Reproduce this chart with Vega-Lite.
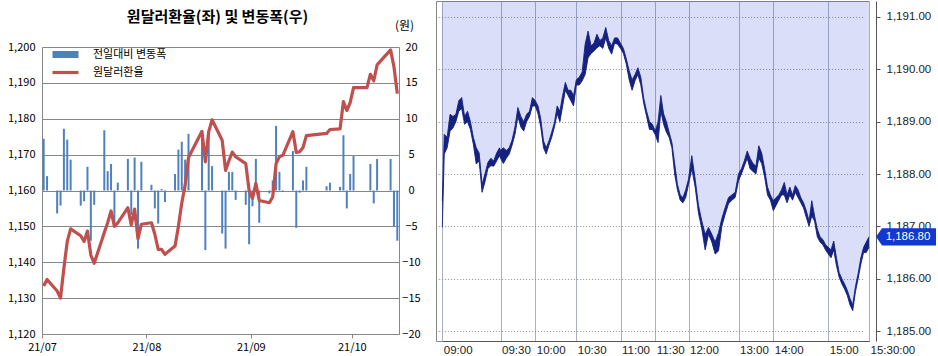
{
  "$schema": "https://vega.github.io/schema/vega-lite/v6.json",
  "padding": {"left": 7, "top": 0, "right": 0, "bottom": 0},
  "spacing": 14,
  "config": {
    "view": {"stroke": "#888888"},
    "font": "Noto Sans CJK KR",
    "axis": {"labelFont": "Noto Sans CJK KR", "titleFont": "Noto Sans CJK KR", "labelColor": "#000000"}
  },
  "resolve": {"scale": {"color": "independent"}, "legend": {"color": "independent"}},
  "hconcat": [
    {
      "width": 357,
      "height": 333,
      "view": {"stroke": null},
      "title": {"text": "원달러환율(좌) 및 변동폭(우)", "fontSize": 15, "fontWeight": "bold", "font": "Noto Sans CJK KR", "color": "#000000", "anchor": "middle", "baseline": "alphabetic", "offset": -36, "dx": -3},
      "data": {"values": [
        {"date": "2021-07-01", "rate": 1133.4, "chg": 7.2},
        {"date": "2021-07-02", "rate": 1135.2, "chg": 2.0},
        {"date": "2021-07-05", "rate": 1132.0, "chg": -3.2},
        {"date": "2021-07-06", "rate": 1130.0, "chg": -2.1},
        {"date": "2021-07-07", "rate": 1138.4, "chg": 8.6},
        {"date": "2021-07-08", "rate": 1145.8, "chg": 7.1},
        {"date": "2021-07-09", "rate": 1149.3, "chg": 4.3},
        {"date": "2021-07-12", "rate": 1147.4, "chg": -2.1},
        {"date": "2021-07-13", "rate": 1145.8, "chg": -1.5},
        {"date": "2021-07-14", "rate": 1148.7, "chg": 3.3},
        {"date": "2021-07-15", "rate": 1142.0, "chg": -7.0},
        {"date": "2021-07-16", "rate": 1139.7, "chg": -2.0},
        {"date": "2021-07-19", "rate": 1148.3, "chg": 8.4},
        {"date": "2021-07-20", "rate": 1151.0, "chg": 2.7},
        {"date": "2021-07-21", "rate": 1154.3, "chg": 3.7},
        {"date": "2021-07-22", "rate": 1150.0, "chg": -5.0},
        {"date": "2021-07-23", "rate": 1151.0, "chg": 1.1},
        {"date": "2021-07-26", "rate": 1155.2, "chg": 4.4},
        {"date": "2021-07-27", "rate": 1150.4, "chg": -3.4},
        {"date": "2021-07-28", "rate": 1154.8, "chg": 4.6},
        {"date": "2021-07-29", "rate": 1146.5, "chg": -8.1},
        {"date": "2021-07-30", "rate": 1150.6, "chg": 4.0},
        {"date": "2021-08-02", "rate": 1151.0, "chg": 0.8},
        {"date": "2021-08-03", "rate": 1147.8, "chg": -2.5},
        {"date": "2021-08-04", "rate": 1143.6, "chg": -4.6},
        {"date": "2021-08-05", "rate": 1143.6, "chg": 0.2},
        {"date": "2021-08-06", "rate": 1142.2, "chg": -1.6},
        {"date": "2021-08-09", "rate": 1144.5, "chg": 2.3},
        {"date": "2021-08-10", "rate": 1150.0, "chg": 5.7},
        {"date": "2021-08-11", "rate": 1156.5, "chg": 6.8},
        {"date": "2021-08-12", "rate": 1161.5, "chg": 4.3},
        {"date": "2021-08-13", "rate": 1169.2, "chg": 7.9},
        {"date": "2021-08-17", "rate": 1176.5, "chg": 7.6},
        {"date": "2021-08-18", "rate": 1168.0, "chg": -8.3},
        {"date": "2021-08-19", "rate": 1176.4, "chg": 8.3},
        {"date": "2021-08-20", "rate": 1179.7, "chg": 3.4},
        {"date": "2021-08-23", "rate": 1174.0, "chg": -6.0},
        {"date": "2021-08-24", "rate": 1165.6, "chg": -8.1},
        {"date": "2021-08-25", "rate": 1168.3, "chg": 2.6},
        {"date": "2021-08-26", "rate": 1170.7, "chg": 2.6},
        {"date": "2021-08-27", "rate": 1169.4, "chg": -1.3},
        {"date": "2021-08-30", "rate": 1167.5, "chg": -2.0},
        {"date": "2021-08-31", "rate": 1160.0, "chg": -7.5},
        {"date": "2021-09-01", "rate": 1157.8, "chg": -2.2},
        {"date": "2021-09-02", "rate": 1162.0, "chg": 4.4},
        {"date": "2021-09-03", "rate": 1157.2, "chg": -4.5},
        {"date": "2021-09-06", "rate": 1156.6, "chg": -0.4},
        {"date": "2021-09-07", "rate": 1158.2, "chg": 1.4},
        {"date": "2021-09-08", "rate": 1167.5, "chg": 9.0},
        {"date": "2021-09-09", "rate": 1169.4, "chg": 2.6},
        {"date": "2021-09-10", "rate": 1169.8, "chg": -0.2},
        {"date": "2021-09-13", "rate": 1176.4, "chg": 5.5},
        {"date": "2021-09-14", "rate": 1170.6, "chg": -5.2},
        {"date": "2021-09-15", "rate": 1170.8, "chg": -0.3},
        {"date": "2021-09-16", "rate": 1172.0, "chg": 1.4},
        {"date": "2021-09-17", "rate": 1175.3, "chg": 3.3},
        {"date": "2021-09-23", "rate": 1175.9, "chg": 0.6},
        {"date": "2021-09-24", "rate": 1177.0, "chg": 1.1},
        {"date": "2021-09-27", "rate": 1177.2, "chg": 0.5},
        {"date": "2021-09-28", "rate": 1184.8, "chg": 7.7},
        {"date": "2021-09-29", "rate": 1182.3, "chg": -2.5},
        {"date": "2021-09-30", "rate": 1184.5, "chg": 2.3},
        {"date": "2021-10-01", "rate": 1188.7, "chg": 4.8},
        {"date": "2021-10-05", "rate": 1188.7, "chg": 0},
        {"date": "2021-10-06", "rate": 1192.4, "chg": 3.7},
        {"date": "2021-10-07", "rate": 1190.6, "chg": -1.8},
        {"date": "2021-10-08", "rate": 1195.0, "chg": 4.4},
        {"date": "2021-10-12", "rate": 1199.2, "chg": 4.4},
        {"date": "2021-10-13", "rate": 1194.5, "chg": -5.0},
        {"date": "2021-10-14", "rate": 1187.0, "chg": -7.0}
      ]},
      "layer": [
        {
          "mark": {"type": "bar", "width": 2},
          "encoding": {
            "x": {"field": "date", "timeUnit": "utcyearmonthdate", "type": "temporal", "bandPosition": 0.5,
              "scale": {"type": "utc", "domain": [{"year": 2021, "month": 7, "date": 1, "utc": true}, {"year": 2021, "month": 10, "date": 15, "utc": true}]},
              "axis": {"title": null, "labelExpr": "utcFormat(datum.value, '%y/%m')", "grid": false,
                "values": [{"year": 2021, "month": 7, "date": 1, "utc": true}, {"year": 2021, "month": 8, "date": 1, "utc": true}, {"year": 2021, "month": 9, "date": 1, "utc": true}, {"year": 2021, "month": 10, "date": 1, "utc": true}],
                "tickSize": 4, "tickColor": "#888888", "domainColor": "#888888", "labelFontSize": 11, "labelPadding": 3, "labelFlush": false, "labelOverlap": false}},
            "y": {"field": "chg", "type": "quantitative", "scale": {"domain": [-20, 20], "nice": false, "range": [333, 46]},
              "axis": {"orient": "right", "values": [-20, -15, -10, -5, 0, 5, 10, 15, 20], "grid": false, "domain": true, "domainColor": "#888888", "ticks": false,
                "labelAlign": "center", "labelPadding": 12, "labelFontSize": 11, "labelOverlap": false,
                "title": "(원)", "titleAngle": 0, "titleX": 5, "titleY": 24, "titleAlign": "center", "titleBaseline": "middle", "titleFontSize": 12, "titleFontWeight": "normal"}},
            "color": {"datum": "전일대비 변동폭", "type": "nominal",
              "scale": {"domain": ["전일대비 변동폭", "원달러환율"], "range": ["#4F81BD", "#C0504D"]},
              "legend": {"title": null, "orient": "none", "legendX": 9, "legendY": 48, "padding": 0,
                "symbolSize": 64, "symbolOffset": 9, "labelOffset": 22, "rowPadding": 6,
                "labelFont": "Noto Sans CJK KR", "labelFontSize": 11, "labelColor": "#000000",
                "encode": {"symbols": {"update": {
                  "shape": {"signal": "datum.value === '원달러환율' ? 'M-3.25,-0.4H3.25V0.4H-3.25Z' : 'M-3.25,-0.875H3.25V0.875H-3.25Z'"},
                  "fill": {"signal": "datum.value === '원달러환율' ? '#C0504D' : '#4F81BD'"},
                  "strokeWidth": {"value": 0},
                  "opacity": {"value": 1}
                }}}}}
          }
        },
        {
          "mark": {"type": "line", "strokeWidth": 3.2, "strokeJoin": "round"},
          "encoding": {
            "x": {"field": "date", "timeUnit": "utcyearmonthdate", "type": "temporal", "bandPosition": 0.5},
            "y": {"field": "rate", "type": "quantitative", "scale": {"domain": [1120, 1200], "nice": false, "zero": false, "range": [333, 46]},
              "axis": {"orient": "left", "title": null, "values": [1120, 1130, 1140, 1150, 1160, 1170, 1180, 1190, 1200], "format": ",.0f",
                "grid": true, "gridColor": "#868686", "gridOpacity": 1, "domain": true, "domainColor": "#888888", "ticks": false, "labelPadding": 7, "labelFontSize": 11, "labelOverlap": false}},
            "color": {"datum": "원달러환율", "type": "nominal"}
          }
        }
      ],
      "resolve": {"scale": {"y": "independent"}, "axis": {"y": "independent"}}
    },
    {
      "width": 433,
      "height": 340,
      "data": {"values": [
        {"t": 540, "lo": 1186.98, "hi": 1187.49},
        {"t": 541, "lo": 1188.38, "hi": 1188.76},
        {"t": 542.5, "lo": 1188.5, "hi": 1188.7},
        {"t": 544, "lo": 1188.82, "hi": 1189.14},
        {"t": 545.5, "lo": 1188.88, "hi": 1189.1},
        {"t": 547, "lo": 1189.0, "hi": 1189.14},
        {"t": 548.5, "lo": 1189.2, "hi": 1189.4},
        {"t": 550, "lo": 1189.25, "hi": 1189.46},
        {"t": 551.5, "lo": 1188.95, "hi": 1189.1},
        {"t": 553, "lo": 1189.0, "hi": 1189.2},
        {"t": 554.5, "lo": 1188.85, "hi": 1189.0},
        {"t": 556, "lo": 1188.57, "hi": 1188.7},
        {"t": 557.5, "lo": 1188.19, "hi": 1188.5},
        {"t": 559, "lo": 1188.25, "hi": 1188.4},
        {"t": 560.5, "lo": 1187.65, "hi": 1187.8},
        {"t": 562, "lo": 1187.85, "hi": 1188.0},
        {"t": 563.5, "lo": 1188.1, "hi": 1188.22},
        {"t": 565, "lo": 1188.16, "hi": 1188.3},
        {"t": 566.5, "lo": 1188.15, "hi": 1188.25},
        {"t": 568, "lo": 1188.25, "hi": 1188.4},
        {"t": 569.5, "lo": 1188.35, "hi": 1188.5},
        {"t": 570, "lo": 1188.3, "hi": 1188.45},
        {"t": 572.5, "lo": 1188.2, "hi": 1188.5},
        {"t": 575, "lo": 1188.3, "hi": 1188.45},
        {"t": 577.5, "lo": 1188.38, "hi": 1188.5},
        {"t": 580, "lo": 1188.55, "hi": 1188.65},
        {"t": 582.5, "lo": 1188.76, "hi": 1188.9},
        {"t": 585, "lo": 1189.1, "hi": 1189.27},
        {"t": 587.5, "lo": 1188.9, "hi": 1189.1},
        {"t": 590, "lo": 1188.82, "hi": 1189.0},
        {"t": 592.5, "lo": 1189.0, "hi": 1189.14},
        {"t": 595, "lo": 1189.1, "hi": 1189.2},
        {"t": 597.5, "lo": 1189.3, "hi": 1189.46},
        {"t": 600, "lo": 1189.3, "hi": 1189.4},
        {"t": 602, "lo": 1189.15, "hi": 1189.3},
        {"t": 604, "lo": 1188.9, "hi": 1189.05},
        {"t": 606, "lo": 1188.5, "hi": 1188.63},
        {"t": 608, "lo": 1188.38, "hi": 1188.5},
        {"t": 610, "lo": 1188.55, "hi": 1188.63},
        {"t": 612, "lo": 1188.7, "hi": 1188.8},
        {"t": 614, "lo": 1188.9, "hi": 1188.98},
        {"t": 616, "lo": 1189.15, "hi": 1189.3},
        {"t": 618, "lo": 1189.0, "hi": 1189.2},
        {"t": 620, "lo": 1189.3, "hi": 1189.5},
        {"t": 622, "lo": 1189.6, "hi": 1189.75},
        {"t": 624, "lo": 1189.5, "hi": 1189.6},
        {"t": 626, "lo": 1189.4, "hi": 1189.6},
        {"t": 628, "lo": 1189.3, "hi": 1189.5},
        {"t": 630, "lo": 1189.7, "hi": 1189.8},
        {"t": 632, "lo": 1189.7, "hi": 1189.85},
        {"t": 634, "lo": 1189.78, "hi": 1189.95},
        {"t": 636, "lo": 1189.9, "hi": 1190.48},
        {"t": 638, "lo": 1190.22, "hi": 1190.73},
        {"t": 640, "lo": 1190.3, "hi": 1190.45},
        {"t": 642, "lo": 1190.35, "hi": 1190.5},
        {"t": 644, "lo": 1190.41, "hi": 1190.67},
        {"t": 646, "lo": 1190.45, "hi": 1190.55},
        {"t": 648, "lo": 1190.4, "hi": 1190.6},
        {"t": 650, "lo": 1190.6, "hi": 1190.8},
        {"t": 652, "lo": 1190.4, "hi": 1190.55},
        {"t": 654, "lo": 1190.29, "hi": 1190.45},
        {"t": 656, "lo": 1190.5, "hi": 1190.6},
        {"t": 658, "lo": 1190.48, "hi": 1190.6},
        {"t": 660, "lo": 1190.4, "hi": 1190.5},
        {"t": 662.5, "lo": 1190.3, "hi": 1190.4},
        {"t": 665, "lo": 1190.1, "hi": 1190.2},
        {"t": 667.5, "lo": 1189.8, "hi": 1189.97},
        {"t": 670, "lo": 1189.6, "hi": 1189.8},
        {"t": 672.5, "lo": 1189.78, "hi": 1189.9},
        {"t": 675, "lo": 1189.9, "hi": 1190.03},
        {"t": 677.5, "lo": 1189.7, "hi": 1189.85},
        {"t": 680, "lo": 1189.35, "hi": 1189.45},
        {"t": 682.5, "lo": 1189.1, "hi": 1189.2},
        {"t": 685, "lo": 1188.85, "hi": 1189.0},
        {"t": 687.5, "lo": 1188.85, "hi": 1188.95},
        {"t": 690, "lo": 1188.75, "hi": 1188.82},
        {"t": 692.5, "lo": 1188.6, "hi": 1189.0},
        {"t": 695, "lo": 1189.2, "hi": 1189.5},
        {"t": 697.5, "lo": 1188.95, "hi": 1189.15},
        {"t": 700, "lo": 1188.8, "hi": 1189.0},
        {"t": 702.5, "lo": 1188.7, "hi": 1188.8},
        {"t": 705, "lo": 1188.5, "hi": 1188.6},
        {"t": 707.5, "lo": 1188.0, "hi": 1188.2},
        {"t": 710, "lo": 1187.7, "hi": 1187.8},
        {"t": 712.5, "lo": 1187.5, "hi": 1187.6},
        {"t": 715, "lo": 1187.45, "hi": 1187.55},
        {"t": 717.5, "lo": 1187.55, "hi": 1187.7},
        {"t": 720, "lo": 1187.8, "hi": 1187.9},
        {"t": 724, "lo": 1188.1, "hi": 1188.35},
        {"t": 728, "lo": 1187.75, "hi": 1187.9},
        {"t": 732, "lo": 1187.25, "hi": 1187.4},
        {"t": 736, "lo": 1186.95, "hi": 1187.1},
        {"t": 740, "lo": 1186.55, "hi": 1186.85},
        {"t": 744, "lo": 1186.85, "hi": 1186.98},
        {"t": 748, "lo": 1186.7, "hi": 1186.85},
        {"t": 752, "lo": 1186.47, "hi": 1186.7},
        {"t": 756, "lo": 1186.53, "hi": 1186.88},
        {"t": 760, "lo": 1187.0, "hi": 1187.15},
        {"t": 764, "lo": 1187.23, "hi": 1187.36},
        {"t": 768, "lo": 1187.43, "hi": 1187.55},
        {"t": 772, "lo": 1187.5, "hi": 1187.6},
        {"t": 776, "lo": 1187.55, "hi": 1187.65},
        {"t": 780, "lo": 1187.87, "hi": 1188.0},
        {"t": 785, "lo": 1188.0, "hi": 1188.1},
        {"t": 790, "lo": 1188.15, "hi": 1188.25},
        {"t": 795, "lo": 1188.3, "hi": 1188.44},
        {"t": 800, "lo": 1188.1, "hi": 1188.3},
        {"t": 805, "lo": 1188.05, "hi": 1188.2},
        {"t": 810, "lo": 1188.0, "hi": 1188.15},
        {"t": 815, "lo": 1188.3, "hi": 1188.54},
        {"t": 820, "lo": 1188.2, "hi": 1188.4},
        {"t": 825, "lo": 1187.95, "hi": 1188.1},
        {"t": 830, "lo": 1187.6, "hi": 1187.75},
        {"t": 835, "lo": 1187.5, "hi": 1187.6},
        {"t": 840, "lo": 1187.3, "hi": 1187.49},
        {"t": 843, "lo": 1187.4, "hi": 1187.55},
        {"t": 846, "lo": 1187.5, "hi": 1187.6},
        {"t": 849, "lo": 1187.6, "hi": 1187.7},
        {"t": 852, "lo": 1187.6, "hi": 1187.84},
        {"t": 855, "lo": 1187.45, "hi": 1187.6},
        {"t": 858, "lo": 1187.6, "hi": 1187.75},
        {"t": 861, "lo": 1187.5, "hi": 1187.6},
        {"t": 864, "lo": 1187.65, "hi": 1187.78},
        {"t": 867, "lo": 1187.55, "hi": 1187.7},
        {"t": 870, "lo": 1187.45, "hi": 1187.55},
        {"t": 873, "lo": 1187.35, "hi": 1187.45},
        {"t": 876, "lo": 1187.17, "hi": 1187.3},
        {"t": 879, "lo": 1187.0, "hi": 1187.1},
        {"t": 882, "lo": 1187.2, "hi": 1187.49},
        {"t": 885, "lo": 1187.1, "hi": 1187.2},
        {"t": 888, "lo": 1186.8, "hi": 1186.95},
        {"t": 891, "lo": 1186.7, "hi": 1186.8},
        {"t": 894, "lo": 1186.65, "hi": 1186.75},
        {"t": 897, "lo": 1186.55, "hi": 1186.65},
        {"t": 900, "lo": 1186.47, "hi": 1186.6},
        {"t": 902, "lo": 1186.4, "hi": 1186.55},
        {"t": 904, "lo": 1186.55, "hi": 1186.72},
        {"t": 906, "lo": 1186.25, "hi": 1186.4},
        {"t": 908, "lo": 1186.03, "hi": 1186.12},
        {"t": 910, "lo": 1185.9, "hi": 1186.0},
        {"t": 912, "lo": 1185.8, "hi": 1185.9},
        {"t": 914, "lo": 1185.68, "hi": 1185.78},
        {"t": 916, "lo": 1185.5, "hi": 1185.62},
        {"t": 918, "lo": 1185.39, "hi": 1185.5},
        {"t": 920, "lo": 1185.75, "hi": 1185.85},
        {"t": 922, "lo": 1186.0, "hi": 1186.1},
        {"t": 924, "lo": 1186.28, "hi": 1186.4},
        {"t": 926, "lo": 1186.5, "hi": 1186.6},
        {"t": 928, "lo": 1186.5, "hi": 1186.7},
        {"t": 930, "lo": 1186.6, "hi": 1186.8}
      ]},
      "layer": [
        {
          "mark": {"type": "area", "color": "#3446D8", "opacity": 0.18},
          "encoding": {
            "x": {"field": "t", "type": "quantitative",
              "scale": {"domain": [540, 570, 600, 630, 660, 690, 720, 780, 840, 900, 930], "range": [6.3, 64.5, 99.3, 140.3, 184.5, 219.3, 252.5, 302.5, 337.3, 392.3, 433], "zero": false, "nice": false},
              "axis": {"title": null, "values": [540, 570, 600, 630, 660, 690, 720, 780, 840, 900, 930],
                "labelExpr": "datum.value == 930 ? '15:30:00' : (datum.value < 600 ? '0' : '') + floor(datum.value / 60) + ':' + (datum.value % 60 == 0 ? '00' : '30')",
                "labelAlign": "left", "labelOffset": 1, "labelPadding": 3, "tickSize": 0, "labelOverlap": false, "labelFlush": false,
                "grid": true, "gridColor": "#A9AFBF", "gridOpacity": 1, "domainColor": "#555555",
                "labelFont": "Liberation Sans", "labelFontSize": 11.5, "labelColor": "#222222"}},
            "y": {"field": "hi", "type": "quantitative",
              "scale": {"domain": [1184.81, 1191.305], "nice": false, "zero": false},
              "axis": {"orient": "right", "title": null, "offset": 7, "values": [1185, 1185.5, 1186, 1186.5, 1187, 1187.5, 1188, 1188.5, 1189, 1189.5, 1190, 1190.5, 1191],
                "format": ",.2f", "grid": true, "gridDash": [1, 2], "gridColor": "#8C8C8C", "gridOpacity": 1, "labelOverlap": false,
                "domain": true, "ticks": true, "domainColor": "#555555", "tickColor": "#555555", "tickSize": 4, "labelPadding": 6,
                "labelFont": "Liberation Sans", "labelFontSize": 11.5, "labelColor": "#222222"}},
            "y2": {"datum": 1191.305}
          }
        },
        {
          "mark": {"type": "area", "color": "#14217F"},
          "encoding": {
            "x": {"field": "t", "type": "quantitative"},
            "y": {"field": "lo", "type": "quantitative"},
            "y2": {"field": "hi"}
          }
        },
        {
          "mark": {"type": "line", "color": "#14217F", "strokeWidth": 0.9},
          "encoding": {
            "x": {"field": "t", "type": "quantitative"},
            "y": {"field": "hi", "type": "quantitative"}
          }
        },
        {
          "mark": {"type": "line", "color": "#14217F", "strokeWidth": 0.9},
          "encoding": {
            "x": {"field": "t", "type": "quantitative"},
            "y": {"field": "lo", "type": "quantitative"}
          }
        },
        {
          "data": {"values": [{"t": 930, "v": 1186.8}]},
          "layer": [
            {
              "mark": {"type": "point", "filled": true, "color": "#1238D0", "opacity": 1, "size": 3600, "xOffset": 37,
                "shape": "M-1,0L-0.8,-0.29H1V0.29H-0.8Z"},
              "encoding": {
                "x": {"field": "t", "type": "quantitative"},
                "y": {"field": "v", "type": "quantitative"}
              }
            },
            {
              "mark": {"type": "text", "color": "#FFFFFF", "xOffset": 39, "font": "Liberation Sans", "fontSize": 11.5, "align": "center", "baseline": "middle"},
              "encoding": {
                "x": {"field": "t", "type": "quantitative"},
                "y": {"field": "v", "type": "quantitative"},
                "text": {"field": "v", "type": "quantitative", "format": ",.2f"}
              }
            }
          ]
        }
      ]
    }
  ]
}
